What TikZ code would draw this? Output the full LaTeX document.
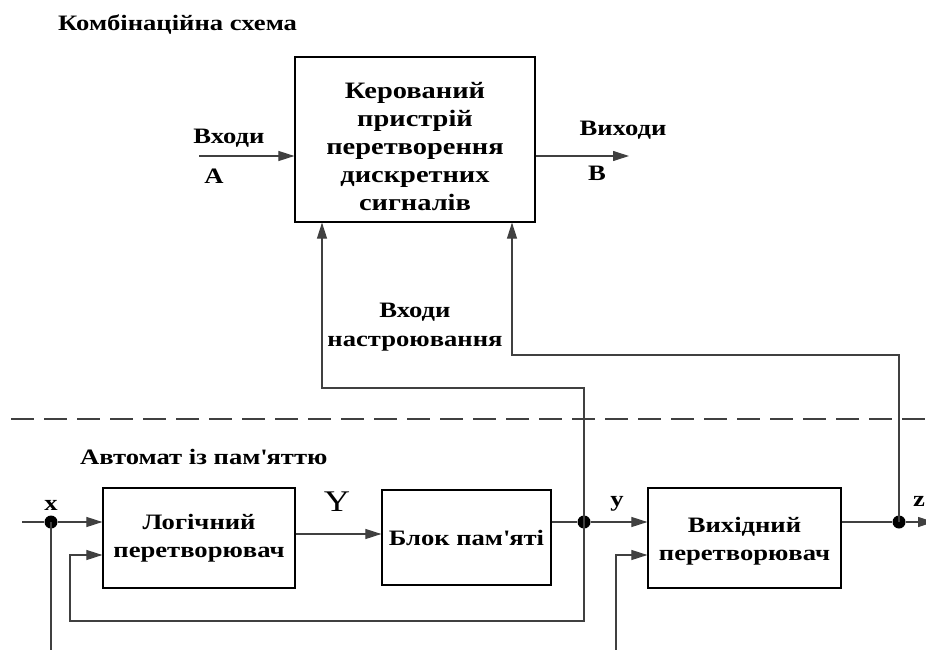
\documentclass[tikz,border=0pt]{standalone}
\usepackage{fontspec}
\setmainfont{Liberation Serif}[FakeStretch=1.21]
\usetikzlibrary{arrows.meta, positioning, calc}

\begin{document}
\begin{tikzpicture}[x=1pt,y=-1pt,>={Triangle[length=16pt,width=10pt]},
    blok/.style={draw,line width=1.2pt,inner sep=0pt,align=center,
        font=\bfseries\fontsize{22}{28.5}\selectfont},
    lab/.style={inner sep=0pt,align=center,font=\bfseries\fontsize{22}{28.5}\selectfont},
    wire/.style={line width=1.1pt,black!75},
    dot/.style={circle,fill=black,minimum size=13pt,inner sep=0pt}]
    \useasboundingbox (0,0) rectangle (926,650);
    % Комбінаційна схема
    \node[lab,anchor=west] (title1) at (58,25) {Комбінаційна схема};
    \node[blok,minimum width=240pt,minimum height=165pt] (komb) at (415,139.5) {};
    \node[lab,font=\bfseries\fontsize{23.5}{28}\selectfont] (kombt) at (415,147)
        {Керований\\пристрій\\перетворення\\дискретних\\сигналів};
    \coordinate (a0) at (199,156);
    \coordinate (b1) at (629,156);
    \draw[wire,->] (a0) -- (komb.west |- a0);
    \draw[wire,->] (komb.east |- b1) -- (b1);
    \node[lab] (inA) at (229,138) {Входи};
    \node[lab] (lA) at (214,176) {A};
    \node[lab] (outB) at (623,130) {Виходи};
    \node[lab] (lB) at (597,173) {B};
    \node[lab] (nastr) at (415,327) {Входи\\настроювання};
    % Межа
    \draw[line width=1.3pt,black!75,dash pattern=on 23pt off 10pt] (11,419) -- (926,419);
    % Автомат із пам'яттю
    \node[lab,anchor=west] (title2) at (80,457) {Автомат із пам\textquotesingle яттю};
    \node[blok,minimum width=192pt,minimum height=100pt] (logic) at (199,538)
        {Логічний\\перетворювач};
    \node[blok,minimum width=169pt,minimum height=95pt] (mem) at (466.5,537.5)
        {Блок пам\textquotesingle яті};
    \node[blok,minimum width=193pt,minimum height=100pt] (out) at (744.5,538) {};
    \node[lab] (outt) at (744.5,541) {Вихідний\\перетворювач};
    \node[dot] (dx) at (51,522) {};
    \node[dot] (d1) at (584,522) {};
    \node[dot] (d2) at (899,522) {};
    % Зв'язки
    \coordinate (x0) at (22,522);
    \coordinate (x1) at (51,650);
    \coordinate (y0) at (0,534);
    \coordinate (f1) at (70,621);
    \coordinate (f2) at (70,555);
    \coordinate (g0) at (616,650);
    \coordinate (g1) at (616,555);
    \coordinate (z0) at (934,522);
    \coordinate (n1) at (322,388);
    \coordinate (n2) at (512,355);
    \draw[wire] (x0) -- (dx);
    \draw[wire,->] (dx) -- (logic.west |- dx);
    \draw[wire] (dx.center) -- (x1);
    \draw[wire,->] (logic.east |- y0) -- (mem.west |- y0);
    \draw[wire] (mem.east |- d1) -- (d1);
    \draw[wire,->] (d1) -- (out.west |- d1);
    \draw[wire,->] (d1.center) |- (f1) |- (logic.west |- f2);
    \draw[wire,->] (g0) -- (g1) -- (out.west |- g1);
    \draw[wire] (out.east |- d2) -- (d2);
    \draw[wire,->] (d2) -- (z0);
    \draw[wire,->] (d1.center) |- (n1) -- (n1 |- komb.south);
    \draw[wire,->] (d2.center) |- (n2) -- (n2 |- komb.south);
    % Позначки
    \node[lab] (lx) at (51,505) {x};
    \node[inner sep=0pt,font=\fontsize{30}{30}\selectfont] (lY) at (337,502) {Y};
    \node[lab] (ly) at (617,504) {y};
    \node[lab] (lz) at (919,501) {z};
\end{tikzpicture}
\end{document}
